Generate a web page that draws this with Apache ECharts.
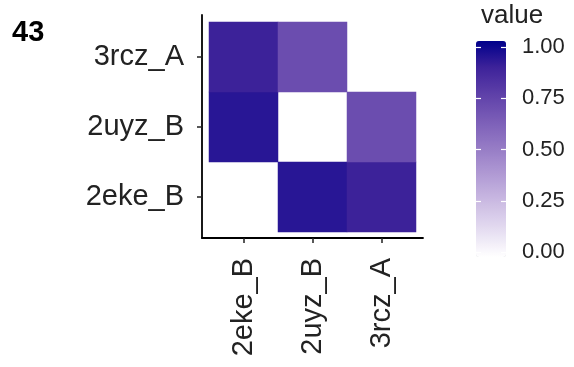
<!DOCTYPE html>
<html>
<head>
<meta charset="utf-8">
<script src="https://cdn.jsdelivr.net/npm/echarts@6/dist/echarts.min.js"></script>
<style>
html,body{margin:0;padding:0;background:#fff;}
#chart{width:574px;height:367px;}
</style>
</head>
<body>
<div id="chart"></div>
<script>
// ---- data ----
const categories = ['2eke_B', '2uyz_B', '3rcz_A'];
const cellX = ['2uyz_B', '3rcz_A', '2eke_B', '3rcz_A', '2eke_B', '2uyz_B'];
const cellY = ['2eke_B', '2eke_B', '2uyz_B', '2uyz_B', '3rcz_A', '3rcz_A'];
const cellValue = [0.92, 0.88, 0.92, 0.70, 0.88, 0.70];
const legendTicks = [0, 0.25, 0.5, 0.75, 1];
const panelLabel = '43';
const legendTitle = 'value';

const gradient = ['#ffffff','#e5ddf1','#ccbce3','#b29cd5','#977dc6','#7c5fb8','#5f41a9','#3e239a','#00008b'];

const heatData = cellValue.map((v, i) => [categories.indexOf(cellX[i]), categories.indexOf(cellY[i]), v]);

const labelFont = 'Liberation Sans, Arial, Helvetica, sans-serif';
const chart = echarts.init(document.getElementById('chart'));
chart.setOption({
  animation: false,
  backgroundColor: '#ffffff',
  title: [
    { text: panelLabel, left: 7, top: 13, textStyle: { fontSize: 29, fontWeight: 'bold', color: '#000', fontFamily: labelFont } },
    { text: legendTitle, left: 476, top: -2, textStyle: { fontSize: 26, fontWeight: 'normal', color: '#222', fontFamily: labelFont } }
  ],
  grid: [
    { left: 209, top: 22, width: 207, height: 210 },
    { left: 202, top: 15, width: 221, height: 223 },
    { left: 476, top: 47, width: 30, height: 205 }
  ],
  xAxis: [
    { gridIndex: 0, type: 'category', data: categories, position: 'bottom', offset: 6,
      axisLine: { show: false },
      axisTick: { show: true, length: 5, alignWithLabel: true, lineStyle: { color: '#222', width: 1.5 } },
      axisLabel: { rotate: 90, margin: 20, fontSize: 29, color: '#222', fontFamily: labelFont },
      splitLine: { show: false } },
    { gridIndex: 1, type: 'value', min: 0, max: 1, axisLine: { show: true, onZero: false, lineStyle: { color: '#000', width: 1.8 } },
      axisTick: { show: false }, axisLabel: { show: false }, splitLine: { show: false } },
    { gridIndex: 2, type: 'value', min: 0, max: 1, show: false }
  ],
  yAxis: [
    { gridIndex: 0, type: 'category', data: categories, position: 'left', offset: 7,
      axisLine: { show: false },
      axisTick: { show: true, length: 5, alignWithLabel: true, lineStyle: { color: '#222', width: 1.5 } },
      axisLabel: { margin: 18, fontSize: 29, color: '#222', fontFamily: labelFont },
      splitLine: { show: false } },
    { gridIndex: 1, type: 'value', min: 0, max: 1, axisLine: { show: true, onZero: false, lineStyle: { color: '#000', width: 1.8 } },
      axisTick: { show: false }, axisLabel: { show: false }, splitLine: { show: false } },
    { gridIndex: 2, type: 'value', min: 0, max: 1, interval: 0.25, position: 'left', z: 10,
      axisLine: { show: false }, axisTick: { show: true, inside: true, length: 5, lineStyle: { color: '#fff', width: 1.2 } },
      axisLabel: { show: false }, splitLine: { show: false } },
    { gridIndex: 2, type: 'value', min: 0, max: 1, interval: 0.25, position: 'right', z: 10,
      axisLine: { show: false }, axisTick: { show: true, inside: true, length: 5, lineStyle: { color: '#fff', width: 1.2 } },
      axisLabel: { show: true, margin: 16, fontSize: 22, color: '#222', fontFamily: labelFont,
        formatter: v => legendTicks.indexOf(v) >= 0 ? v.toFixed(2) : '' },
      splitLine: { show: false } }
  ],
  visualMap: {
    type: 'continuous', min: 0, max: 1, seriesIndex: 0, calculable: false, hoverLink: false,
    orient: 'vertical', left: 476, top: 41, itemWidth: 30, itemHeight: 216,
    text: null, showLabel: false, padding: 0,
    inRange: { color: gradient }
  },
  series: [
    { type: 'heatmap', xAxisIndex: 0, yAxisIndex: 0, data: heatData,
      itemStyle: { borderWidth: 0 }, emphasis: { disabled: true } }
  ]
});
</script>
</body>
</html>
